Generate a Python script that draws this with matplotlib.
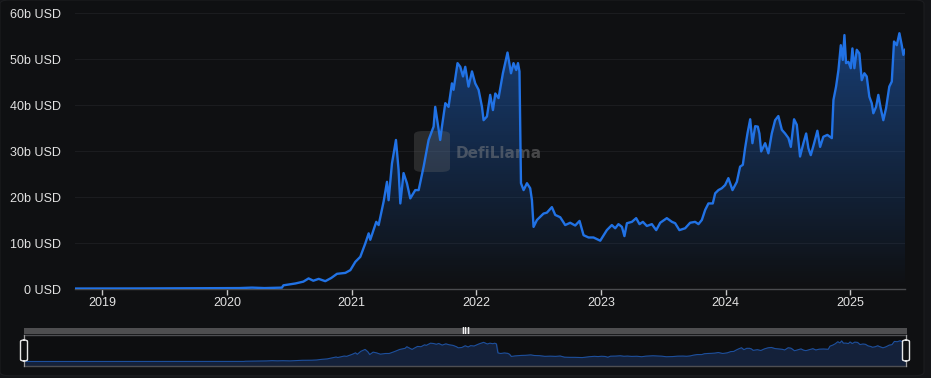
import numpy as np
import matplotlib
matplotlib.use("Agg")
import matplotlib.pyplot as plt
from matplotlib.patches import FancyBboxPatch, Rectangle, Polygon

plt.rcParams["font.family"] = ["Liberation Sans", "DejaVu Sans"]

# decimal years and TVL values (billions USD)
years = [2018.78, 2019.0, 2019.3, 2019.6, 2019.9, 2020.1, 2020.2, 2020.3, 2020.44,
         2020.452, 2020.548, 2020.612, 2020.654, 2020.692, 2020.735, 2020.788, 2020.836,
         2020.882, 2020.949, 2020.989, 2021.029, 2021.069, 2021.109, 2021.136, 2021.149,
         2021.197, 2021.216, 2021.256, 2021.283, 2021.296, 2021.323, 2021.355, 2021.376,
         2021.390, 2021.416, 2021.443, 2021.470, 2021.510, 2021.537, 2021.577, 2021.617,
         2021.657, 2021.670, 2021.684, 2021.710, 2021.724, 2021.751, 2021.777, 2021.804,
         2021.817, 2021.849, 2021.871, 2021.893, 2021.911, 2021.937, 2021.965, 2021.991,
         2022.018, 2022.045, 2022.058, 2022.085, 2022.111, 2022.133, 2022.152, 2022.178,
         2022.213, 2022.250, 2022.278, 2022.298, 2022.320, 2022.334, 2022.346, 2022.358,
         2022.379, 2022.406, 2022.432, 2022.446, 2022.459, 2022.486, 2022.512, 2022.539,
         2022.566, 2022.606, 2022.633, 2022.673, 2022.713, 2022.753, 2022.793, 2022.828,
         2022.860, 2022.900, 2022.940, 2022.994, 2023.047, 2023.087, 2023.114, 2023.140,
         2023.168, 2023.188, 2023.208, 2023.248, 2023.282, 2023.309, 2023.336, 2023.368,
         2023.408, 2023.443, 2023.475, 2023.528, 2023.569, 2023.595, 2023.629, 2023.675,
         2023.715, 2023.755, 2023.782, 2023.809, 2023.836, 2023.862, 2023.897, 2023.916,
         2023.942, 2023.969, 2023.996, 2024.022, 2024.055, 2024.090, 2024.116, 2024.138,
         2024.156, 2024.175, 2024.197, 2024.215, 2024.237, 2024.258, 2024.271, 2024.285,
         2024.317, 2024.343, 2024.370, 2024.397, 2024.423, 2024.451, 2024.477, 2024.504,
         2024.523, 2024.549, 2024.571, 2024.597, 2024.624, 2024.646, 2024.664, 2024.683,
         2024.710, 2024.736, 2024.758, 2024.784, 2024.816, 2024.852, 2024.865, 2024.886,
         2024.905, 2024.924, 2024.940, 2024.953, 2024.966, 2024.985, 2025.004, 2025.017,
         2025.033, 2025.052, 2025.073, 2025.092, 2025.113, 2025.132, 2025.153, 2025.172,
         2025.185, 2025.207, 2025.225, 2025.244, 2025.265, 2025.287, 2025.313, 2025.333,
         2025.351, 2025.373, 2025.394, 2025.413, 2025.426, 2025.439]
tvl = [0.1, 0.1, 0.12, 0.15, 0.18, 0.2, 0.3, 0.2, 0.3,
       0.8, 1.2, 1.6, 2.3, 1.8, 2.2, 1.7, 2.4,
       3.3, 3.5, 4.1, 5.9, 7.0, 9.9, 12.1, 10.7,
       14.6, 13.9, 19.0, 23.3, 19.3, 27.3, 32.4, 25.9,
       18.6, 25.2, 23.0, 19.7, 21.5, 21.5, 26.6, 32.4,
       35.3, 39.6, 37.1, 32.4, 35.3, 40.4, 39.6, 44.7,
       43.3, 49.1, 48.3, 46.2, 48.3, 44.0, 47.3, 44.7,
       43.3, 39.6, 36.7, 37.5, 42.2, 38.9, 42.5, 41.5,
       46.9, 51.4, 46.9, 49.1, 47.6, 49.1, 47.3, 23.0,
       21.5, 23.0, 21.9, 19.3, 13.5, 15.0, 15.7, 16.4,
       16.6, 17.8, 16.1, 15.6, 13.9, 14.4, 13.8, 14.8,
       11.7, 11.2, 11.2, 10.5, 12.8, 13.9, 13.2, 14.1,
       13.5, 11.5, 14.3, 14.6, 15.4, 14.1, 14.6, 13.7,
       14.1, 12.8, 14.4, 15.4, 14.6, 14.3, 12.8, 13.2,
       14.4, 14.6, 14.1, 15.0, 17.2, 18.6, 18.6, 20.8,
       21.5, 21.9, 22.6, 24.1, 21.5, 23.3, 26.6, 27.0,
       30.6, 33.8, 36.9, 31.7, 35.4, 35.3, 33.8, 29.9,
       31.7, 29.5, 33.8, 36.7, 37.6, 34.6, 33.8, 32.8,
       30.9, 36.9, 35.7, 28.8, 31.7, 33.8, 30.6, 29.1,
       31.7, 34.4, 30.9, 33.1, 33.5, 32.8, 41.1, 44.0,
       47.6, 53.0, 49.8, 55.2, 49.1, 49.4, 48.0, 52.3,
       48.0, 52.0, 51.2, 45.4, 46.9, 46.2, 41.8, 40.4,
       38.2, 39.6, 42.2, 39.3, 36.7, 39.3, 44.0, 45.1,
       53.8, 53.0, 55.6, 53.0, 50.9, 52.0]

year_ticks = [2019, 2020, 2021, 2022, 2023, 2024, 2025]
y_ticks = [0, 10, 20, 30, 40, 50, 60]
y_labels = ["0 USD", "10b USD", "20b USD", "30b USD", "40b USD", "50b USD", "60b USD"]

bg = "#0f1012"
blue = "#2172e5"
W, H = 931, 378

fig = plt.figure(figsize=(W / 100, H / 100), dpi=100)
fig.patch.set_facecolor("#141518")
# panel behind everything
fig.patches.append(FancyBboxPatch((0, 0.006), 924 / W, 0.994, boxstyle="round,pad=0,rounding_size=0.01",
                                  transform=fig.transFigure, facecolor=bg, edgecolor="#1c1d20", lw=0.8,
                                  zorder=-10))

x = np.array(years)
v = np.array(tvl)

# ---- main chart
ax = fig.add_axes([75 / W, 1 - 289 / H, 830 / W, 276 / H])
ax.set_facecolor("none")
ax.set_xlim(x[0], x[-1])
ax.set_ylim(0, 60)

# gradient fill under the line
grad = np.linspace(0, 1, 256).reshape(-1, 1)
cmap = matplotlib.colors.LinearSegmentedColormap.from_list("g", [(0.13, 0.45, 0.9, 0.0), (0.13, 0.45, 0.9, 0.5)])
im = ax.imshow(grad, extent=[x[0], x[-1], 0, 60], origin="lower", aspect="auto", cmap=cmap, zorder=1)
poly = Polygon(np.column_stack([np.r_[x[0], x, x[-1]], np.r_[0, v, 0]]), closed=True,
               facecolor="none", edgecolor="none", transform=ax.transData)
ax.add_patch(poly)
im.set_clip_path(poly)

ax.plot(x, v, color=blue, lw=1.7, zorder=3, solid_joinstyle="round")

for s in ["top", "right", "left"]:
    ax.spines[s].set_visible(False)
ax.spines["bottom"].set_color("#4a4b4e")
ax.spines["bottom"].set_linewidth(1)
ax.set_yticks(y_ticks)
ax.set_yticklabels(y_labels)
ax.set_xticks(year_ticks)
ax.set_xticklabels([str(t) for t in year_ticks])
ax.tick_params(axis="y", length=0, pad=10, labelsize=9, labelcolor="#e2e2e2")
ax.tick_params(axis="x", length=4, width=1, color="#c8c8c8", pad=2, labelsize=9, labelcolor="#e2e2e2")
ax.grid(axis="y", color="#1b1c1f", lw=0.8)
ax.set_axisbelow(True)

# watermark (between fill and line)
ax.add_patch(FancyBboxPatch((414 / W, 1 - 172 / H), 36 / W, 41 / H, boxstyle="round,pad=0,rounding_size=0.01",
                            transform=fig.transFigure, facecolor="#6a6a6a", alpha=0.3, edgecolor="none",
                            zorder=2))
ax.text(456 / W, 1 - 153 / H, "DefiLlama", color="#8a8a8a", alpha=0.45, fontsize=11,
        fontweight="bold", va="center", ha="left", transform=fig.transFigure, zorder=2,
        family="DejaVu Sans")

# ---- minimap
mx = fig.add_axes([24 / W, 1 - 366 / H, 882 / W, 31 / H])
mx.set_facecolor("#0d0e10")
mx.set_xlim(x[0], x[-1])
mx.set_ylim(-12, 71)
mx.fill_between(x, v, -12, color="#14213a", zorder=1)
mx.plot(x, v, color="#1d4f9c", lw=0.8, zorder=2)
mx.set_xticks([])
mx.set_yticks([])
for s in mx.spines.values():
    s.set_color("#4d4e52")
    s.set_linewidth(1)

# top bar of the slider
fig.patches.append(Rectangle((24 / W, 1 - 334 / H), 883 / W, 6 / H, transform=fig.transFigure,
                             facecolor="#4e4e50", edgecolor="none", zorder=5))
fig.text(466 / W, 1 - 331 / H, "III", color="#f0f0f0", fontsize=6,
         ha="center", va="center", fontweight="bold", zorder=6, family="DejaVu Sans")

# handles
for hx in [24, 906]:
    fig.lines.append(matplotlib.lines.Line2D([hx / W, hx / W], [1 - 366 / H, 1 - 335 / H],
                                             transform=fig.transFigure, color="#9a9a9a", lw=0.8, zorder=5))
    fig.patches.append(FancyBboxPatch(((hx - 3.5) / W, 1 - 361 / H), 7 / W, 21 / H,
                                      boxstyle="round,pad=0,rounding_size=0.004", transform=fig.transFigure,
                                      facecolor="#0f1012", edgecolor="#e8e8e8", lw=1, zorder=6))

fig.savefig("out.png", dpi=100, facecolor=fig.get_facecolor())
